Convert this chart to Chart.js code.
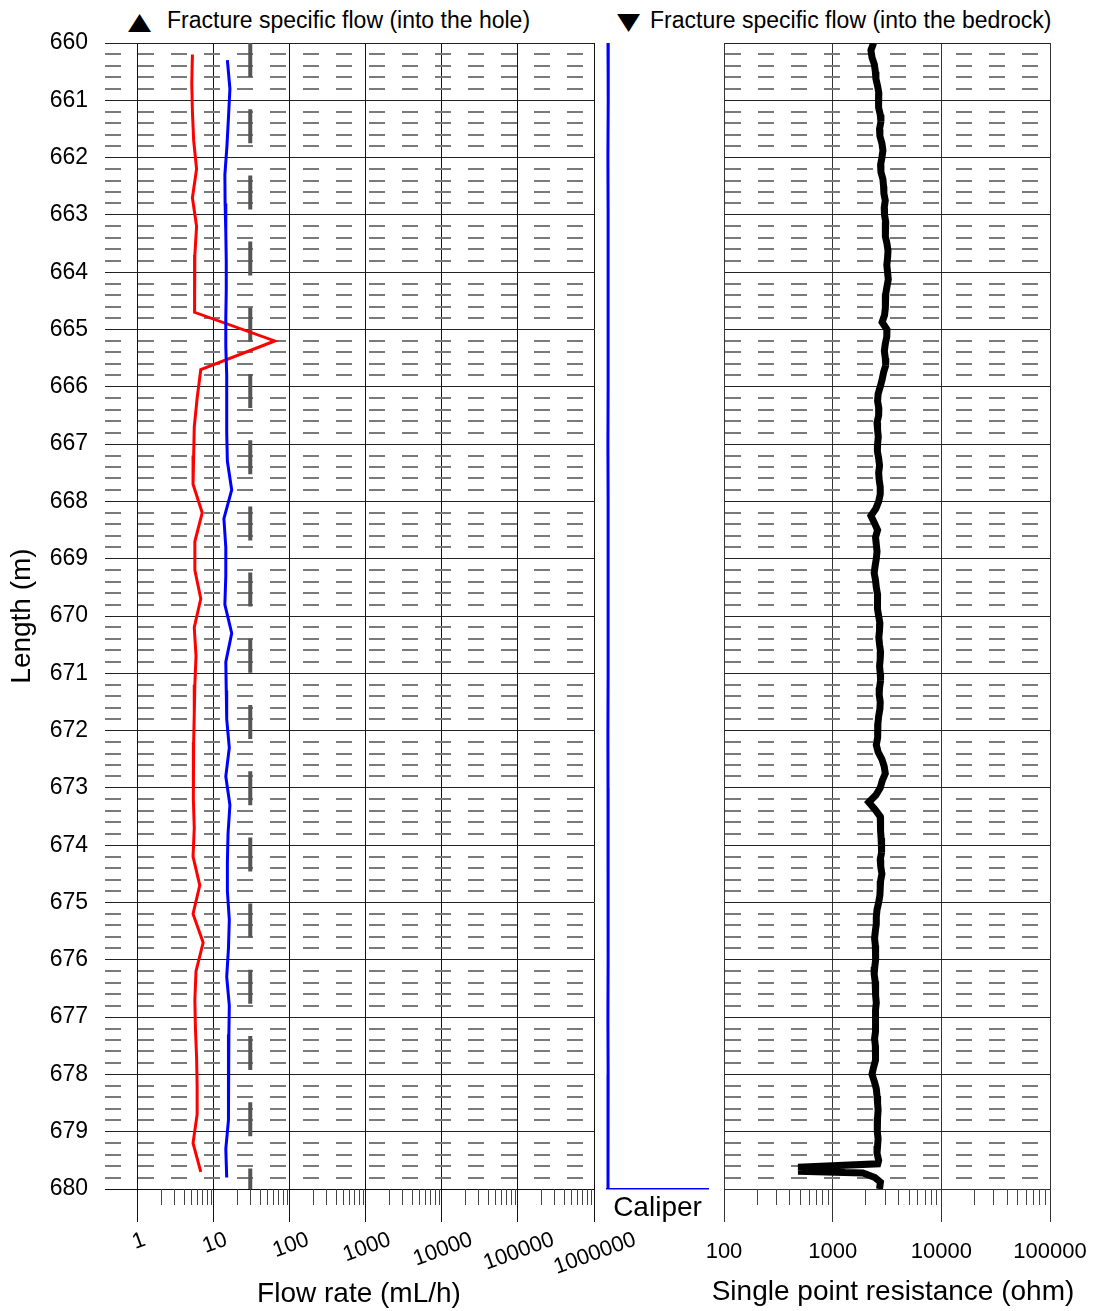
<!DOCTYPE html>
<html>
<head>
<meta charset="utf-8">
<script src="https://cdn.jsdelivr.net/npm/chart.js@4.4.0/dist/chart.umd.min.js"></script>
<style>
  body { margin: 0; background: #fff; }
  #wrap { position: relative; width: 1095px; height: 1311px; font-family: "Liberation Sans", Arial, sans-serif; }
  #wrap canvas { position: absolute; left: 0; top: 0; }
  .ttl { position: absolute; top: 8px; font-size: 23px; line-height: 24px; color: #000; white-space: nowrap; }
  .tri { position: absolute; top: 6px; font-family: "DejaVu Sans", sans-serif; font-size: 30px; line-height: 30px;
         color: #000; display: inline-block; transform: scaleY(0.78); }
</style>
</head>
<body>
<div id="wrap">
  <span class="tri" style="left:128px">▲</span>
  <div class="ttl" style="left:167px">Fracture specific flow (into the hole)</div>
  <span class="tri" style="left:617px">▼</span>
  <div class="ttl" style="left:650px">Fracture specific flow (into the bedrock)</div>
  <canvas id="flow" width="1095" height="1311"></canvas>
  <canvas id="caliper" width="1095" height="1311"></canvas>
  <canvas id="resistance" width="1095" height="1311"></canvas>
</div>
<script>
// flow log (mL/h), depth in m
var depthRed = [660.2, 660.7, 661.2, 661.7, 662.2, 662.7, 663.2, 663.7, 664.2, 664.7,
  665.2, 665.7, 666.2, 666.7, 667.2, 667.7, 668.2, 668.7, 669.2, 669.7,
  670.2, 670.7, 671.2, 671.7, 672.2, 672.7, 673.2, 673.7, 674.2, 674.7,
  675.2, 675.7, 676.2, 676.7, 677.2, 677.7, 678.2, 678.7, 679.2, 679.7];
var flowRed = [5.2, 5.1, 5.2, 5.4, 5.9, 5.2, 5.9, 5.6, 5.6, 5.5,
  63, 6.7, 6.0, 5.5, 5.4, 5.3, 7.0, 5.6, 5.6, 6.7,
  5.5, 5.8, 5.6, 5.5, 5.4, 5.4, 5.3, 5.5, 5.3, 6.5,
  5.3, 7.2, 5.8, 5.6, 5.7, 5.9, 6.0, 6.0, 5.3, 6.7];

var depthBlue = [660.3, 660.8, 661.3, 661.8, 662.3, 662.8, 663.3, 663.8, 664.3, 664.8,
  665.3, 665.8, 666.3, 666.8, 667.3, 667.8, 668.3, 668.8, 669.3, 669.8,
  670.3, 670.8, 671.3, 671.8, 672.3, 672.8, 673.3, 673.8, 674.3, 674.8,
  675.3, 675.8, 676.3, 676.8, 677.3, 677.8, 678.3, 678.8, 679.3, 679.8];
var flowBlue = [15.0, 16.2, 15.5, 14.8, 13.9, 14.0, 14.3, 14.5, 14.5, 14.3,
  14.3, 14.7, 14.7, 14.7, 15.0, 17.1, 13.5, 14.3, 14.3, 13.9,
  17.1, 14.3, 14.5, 14.7, 15.9, 14.3, 16.2, 15.3, 15.0, 15.0,
  15.9, 15.5, 14.7, 15.9, 15.7, 15.5, 15.3, 15.7, 14.3, 14.7];

var limitDepth = [660, 680];
var limitFlow = [30, 30];

var caliperDepth = [660, 661, 662, 663, 664, 665, 666, 667, 668, 669, 670,
  671, 672, 673, 674, 675, 676, 677, 678, 679, 680];
var caliperValue = [1.0, 1.2, 0.9, 1.1, 1.0, 1.3, 1.0, 0.9, 1.1, 1.2, 1.0,
  1.1, 0.9, 1.0, 1.2, 1.1, 1.0, 0.9, 1.1, 1.0, 1.0];

// single point resistance (ohm), one row per metre
var resDepth = [
  660.000, 660.125, 660.250, 660.375, 660.500, 660.625, 660.750, 660.875,
  661.000, 661.125, 661.250, 661.375, 661.500, 661.625, 661.750, 661.875,
  662.000, 662.125, 662.250, 662.375, 662.500, 662.625, 662.750, 662.875,
  663.000, 663.125, 663.250, 663.375, 663.500, 663.625, 663.750, 663.875,
  664.000, 664.125, 664.250, 664.375, 664.500, 664.625, 664.750, 664.875,
  665.000, 665.125, 665.250, 665.375, 665.500, 665.625, 665.750, 665.875,
  666.000, 666.125, 666.250, 666.375, 666.500, 666.625, 666.750, 666.875,
  667.000, 667.125, 667.250, 667.375, 667.500, 667.625, 667.750, 667.875,
  668.000, 668.125, 668.250, 668.375, 668.500, 668.625, 668.750, 668.875,
  669.000, 669.125, 669.250, 669.375, 669.500, 669.625, 669.750, 669.875,
  670.000, 670.125, 670.250, 670.375, 670.500, 670.625, 670.750, 670.875,
  671.000, 671.125, 671.250, 671.375, 671.500, 671.625, 671.750, 671.875,
  672.000, 672.125, 672.250, 672.375, 672.500, 672.625, 672.750, 672.875,
  673.000, 673.125, 673.250, 673.375, 673.500, 673.625, 673.750, 673.875,
  674.000, 674.125, 674.250, 674.375, 674.500, 674.625, 674.750, 674.875,
  675.000, 675.125, 675.250, 675.375, 675.500, 675.625, 675.750, 675.875,
  676.000, 676.125, 676.250, 676.375, 676.500, 676.625, 676.750, 676.875,
  677.000, 677.125, 677.250, 677.375, 677.500, 677.625, 677.750, 677.875,
  678.000, 678.125, 678.250, 678.375, 678.500, 678.625, 678.750, 678.875,
  679.000, 679.125, 679.250, 679.375, 679.500,
  679.56, 679.62, 679.66, 679.69, 679.72, 679.80, 679.88, 680.00];
var resValue = [
  2380, 2250, 2300, 2420, 2470, 2500, 2590, 2660,
  2650, 2640, 2740, 2780, 2700, 2720, 2840, 2900,
  2840, 2760, 2780, 2900, 2940, 2960, 3050, 2980,
  3000, 3080, 3050, 3060, 3160, 3230, 3200, 3150,
  3200, 3250, 3160, 3080, 3050, 3060, 3000, 2850,
  3160, 3150, 3050, 2990, 3050, 3080, 2940, 2850,
  2740, 2620, 2590, 2660, 2650, 2560, 2590, 2630,
  2590, 2580, 2650, 2700, 2650, 2680, 2740, 2740,
  2650, 2500, 2250, 2420, 2590, 2480, 2520, 2560,
  2520, 2460, 2410, 2480, 2520, 2590, 2590, 2580,
  2650, 2720, 2700, 2660, 2700, 2760, 2740, 2700,
  2740, 2760, 2700, 2680, 2740, 2720, 2650, 2610,
  2590, 2600, 2520, 2620, 2840, 2980, 3050, 2860,
  2740, 2500, 2150, 2450, 2740, 2780, 2740, 2790,
  2840, 2800, 2740, 2770, 2840, 2760, 2740, 2720,
  2650, 2560, 2520, 2520, 2470, 2430, 2470, 2500,
  2470, 2440, 2410, 2460, 2470, 2500, 2520, 2480,
  2470, 2500, 2470, 2430, 2470, 2490, 2470, 2380,
  2300, 2420, 2520, 2560, 2590, 2620, 2590, 2560,
  2590, 2620, 2590, 2560, 2650,
  2600, 480, 1300, 480, 1900, 2450, 2750, 2700];

var flowTicks = [1, 10, 100, 1000, 10000, 100000, 1000000];
var flowTickLabels = ["1", "10", "100", "1000", "10000", "100000", "1000000"];
var resTicks = [100, 1000, 10000, 100000];

Chart.defaults.font.family = '"Liberation Sans", Arial, sans-serif';
Chart.defaults.color = '#000';

function pts(ys, xs) {
  return ys.map(function (y, i) { return { x: xs[i], y: y }; });
}
function isWhole(v) { return Math.abs(v - Math.round(v)) < 1e-6; }
function isDecade(v) { var l = Math.log10(v); return Math.abs(l - Math.round(l)) < 1e-9; }

function depthAxis(width, labels) {
  return {
    type: 'linear', min: 660, max: 680, reverse: true,
    afterFit: function (s) { s.width = width; s.paddingTop = 0; s.paddingBottom = 0; },
    ticks: {
      stepSize: 0.2, autoSkip: false, display: labels, padding: 17,
      font: { size: 23 },
      callback: function (v) { return isWhole(v) ? String(Math.round(v)) : ''; }
    },
    grid: {
      drawTicks: false,
      lineWidth: function (c) { return c.tick && isWhole(c.tick.value) ? 1 : 2; },
      color: function (c) { return c.tick && isWhole(c.tick.value) ? '#222' : '#7a7a7a'; }
    },
    border: {
      display: false,
      dash: function (c) { return c.tick && !isWhole(c.tick.value) ? [16, 17] : []; }
    }
  };
}

// short minor ticks under the log axes, slanted flow labels, axis title
var logTicks = {
  id: 'logTicks',
  afterDraw: function (chart, args, opts) {
    var sc = chart.scales.x, ctx = chart.ctx, y0 = chart.chartArea.bottom;
    ctx.save();
    ctx.strokeStyle = '#444';
    ctx.lineWidth = 1;
    for (var i = 0; i < opts.decades.length - 1; i++) {
      for (var m = 2; m <= 9; m++) {
        var px = Math.round(sc.getPixelForValue(m * opts.decades[i])) + 0.5;
        ctx.beginPath(); ctx.moveTo(px, y0); ctx.lineTo(px, y0 + 16); ctx.stroke();
      }
    }
    ctx.fillStyle = '#000';
    ctx.textAlign = 'center';
    ctx.textBaseline = 'middle';
    if (opts.labels) {
      ctx.font = '22px "Liberation Sans", Arial, sans-serif';
      var a = 20 * Math.PI / 180;
      opts.decades.forEach(function (d, k) {
        var t = opts.labels[k];
        var w = ctx.measureText(t).width;
        var x = sc.getPixelForValue(d) + 1;
        var y = y0 + 43 + (w * Math.sin(a) + 15 * Math.cos(a)) / 2;
        ctx.save();
        ctx.translate(x, y);
        ctx.rotate(-a);
        ctx.fillText(t, 0, 0);
        ctx.restore();
      });
    }
    if (opts.title) {
      ctx.font = '28px "Liberation Sans", Arial, sans-serif';
      ctx.fillText(opts.title, opts.titleX, opts.titleY);
    }
    ctx.restore();
  }
};

var lineBase = { pointRadius: 0, fill: false, tension: 0 };

new Chart(document.getElementById('flow'), {
  type: 'line',
  data: {
    datasets: [
      Object.assign({ data: pts(depthBlue, flowBlue), borderColor: '#0000ff', borderWidth: 3 }, lineBase),
      Object.assign({ data: pts(depthRed, flowRed), borderColor: '#ff0000', borderWidth: 3 }, lineBase),
      Object.assign({ data: pts(limitDepth, limitFlow), borderColor: '#555555', borderWidth: 4, borderDash: [34, 32.2] }, lineBase)
    ]
  },
  options: {
    responsive: false, animation: false, devicePixelRatio: 1, indexAxis: 'y',
    layout: { padding: { left: 0, top: 43, right: 1095 - 594, bottom: 0 } },
    plugins: {
      legend: { display: false }, tooltip: { enabled: false },
      logTicks: { decades: flowTicks, labels: flowTickLabels, title: 'Flow rate (mL/h)', titleX: 359, titleY: 1294 }
    },
    scales: {
      x: {
        type: 'logarithmic', position: 'bottom', min: 0.368, max: 1000000,
        afterFit: function (s) { s.height = 122; s.paddingLeft = 0; s.paddingRight = 0; },
        ticks: { display: false, autoSkip: false },
        grid: {
          tickLength: 33, lineWidth: 1,
          color: function (c) { return c.tick && isDecade(c.tick.value) ? '#111' : 'rgba(0,0,0,0)'; },
          tickColor: function (c) { return c.tick && isDecade(c.tick.value) ? '#111' : 'rgba(0,0,0,0)'; }
        },
        border: { display: true, color: '#111' }
      },
      y: Object.assign(depthAxis(105, true), {
        title: { display: true, text: 'Length (m)', font: { size: 28 }, padding: { top: 5, bottom: 0 } }
      })
    }
  },
  plugins: [logTicks]
});

new Chart(document.getElementById('caliper'), {
  type: 'line',
  data: {
    datasets: [
      Object.assign({ data: pts(caliperDepth, caliperValue), borderColor: '#0000ff', borderWidth: 3, clip: 6 }, lineBase)
    ]
  },
  options: {
    responsive: false, animation: false, devicePixelRatio: 1, indexAxis: 'y',
    layout: { padding: { left: 607, top: 43, right: 1095 - 708, bottom: 0 } },
    plugins: { legend: { display: false }, tooltip: { enabled: false } },
    scales: {
      x: {
        type: 'linear', min: 0, max: 100,
        afterFit: function (s) { s.height = 122; s.paddingLeft = 0; s.paddingRight = 0; },
        ticks: { display: false },
        grid: { display: false },
        border: { display: true, color: '#0000ff', width: 1.5 },
        title: { display: true, text: 'Caliper', font: { size: 28 }, padding: { top: 0, bottom: 86 } }
      },
      y: { type: 'linear', min: 660, max: 680, reverse: true, display: false }
    }
  }
});

var resY = depthAxis(0, false);
resY.border = {
  display: true, color: '#333',
  dash: function (c) { return c.tick && !isWhole(c.tick.value) ? [16, 17] : []; }
};

new Chart(document.getElementById('resistance'), {
  type: 'line',
  data: {
    datasets: [
      Object.assign({ data: pts(resDepth, resValue), borderColor: '#000', borderWidth: 7 }, lineBase)
    ]
  },
  options: {
    responsive: false, animation: false, devicePixelRatio: 1, indexAxis: 'y',
    layout: { padding: { left: 724, top: 43, right: 1095 - 1050, bottom: 0 } },
    plugins: {
      legend: { display: false }, tooltip: { enabled: false },
      logTicks: { decades: resTicks, title: 'Single point resistance (ohm)', titleX: 893, titleY: 1292 }
    },
    scales: {
      x: {
        type: 'logarithmic', position: 'bottom', min: 100, max: 100000,
        afterFit: function (s) { s.height = 122; s.paddingLeft = 0; s.paddingRight = 0; },
        ticks: {
          autoSkip: false, maxRotation: 0, minRotation: 0, padding: 17, font: { size: 22 },
          callback: function (v) { return isDecade(v) ? String(Math.round(v)) : ''; }
        },
        grid: {
          tickLength: 33, lineWidth: 1,
          color: function (c) { return c.tick && isDecade(c.tick.value) ? '#333' : 'rgba(0,0,0,0)'; },
          tickColor: function (c) { return c.tick && isDecade(c.tick.value) ? '#333' : 'rgba(0,0,0,0)'; }
        },
        border: { display: true, color: '#333' }
      },
      y: resY
    }
  },
  plugins: [logTicks]
});
</script>
</body>
</html>
